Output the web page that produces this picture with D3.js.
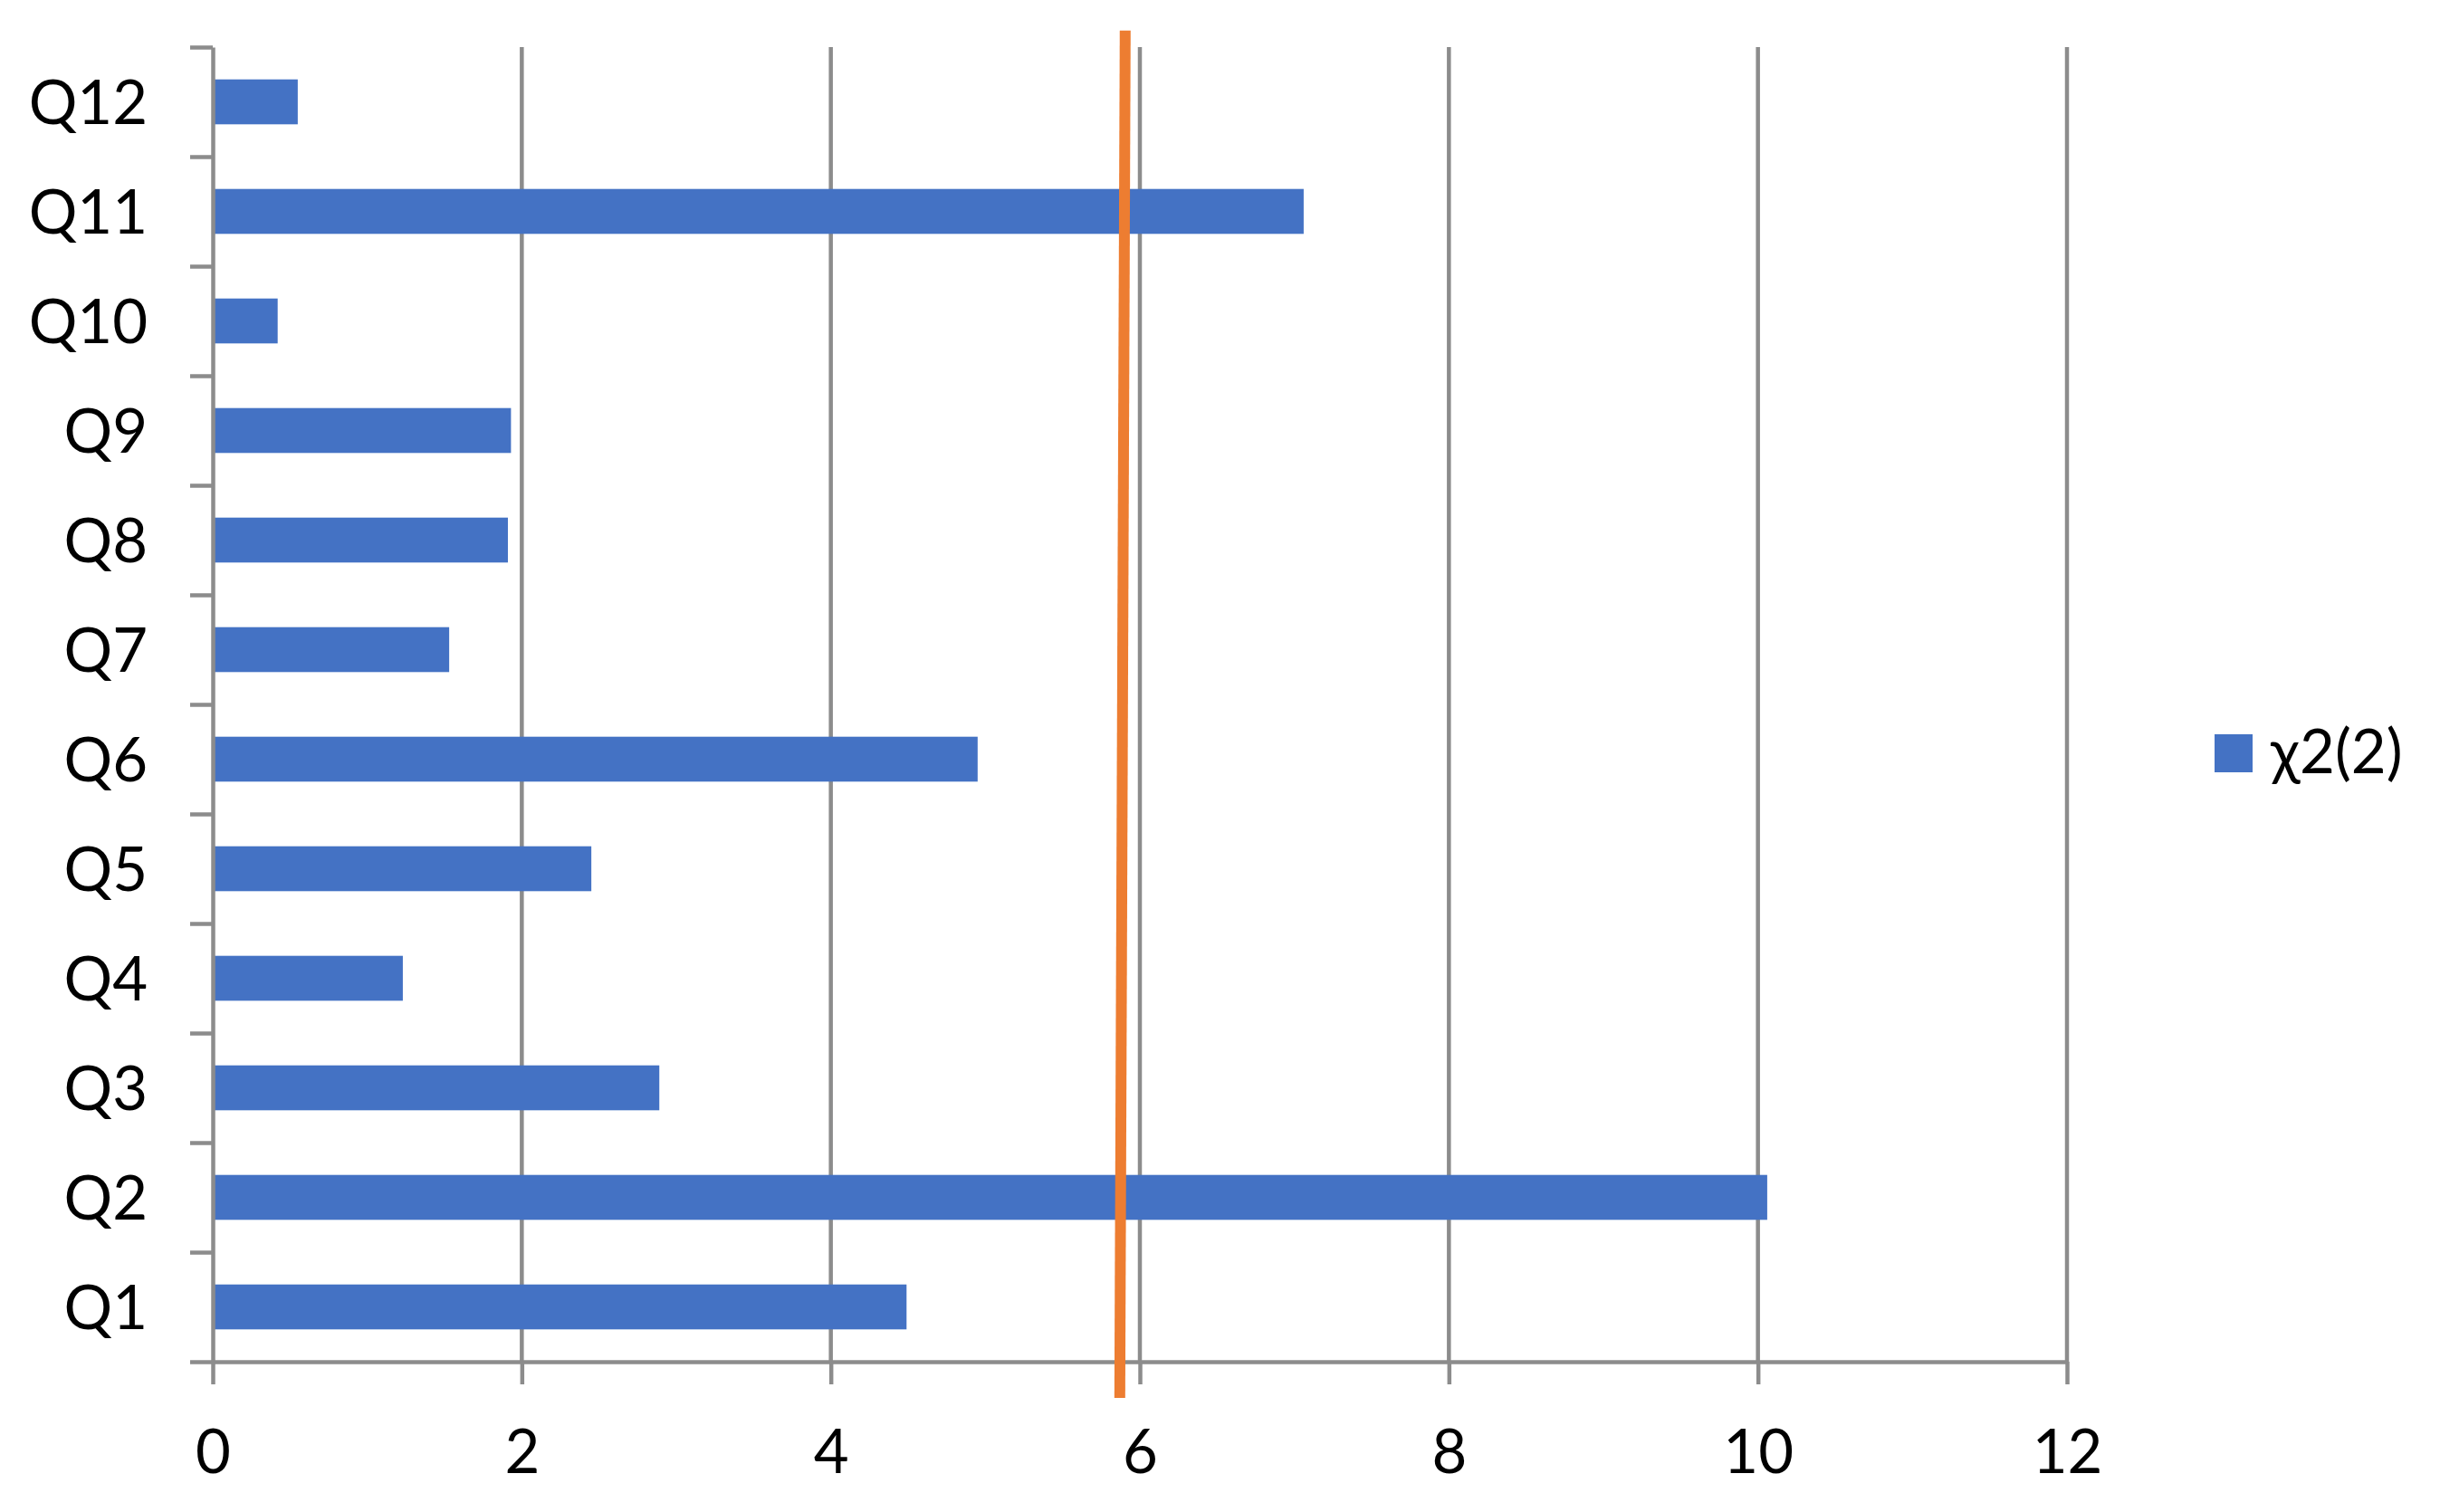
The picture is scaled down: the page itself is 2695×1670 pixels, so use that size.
<!DOCTYPE html>
<meta charset="utf-8">
<style>
body { margin: 0; background: #fff; }
svg, text { font-family: 'Lato', 'Open Sans', sans-serif; }
.grid line, .axis path, .axis line { stroke: #8c8c8c; stroke-width: 4.5; }
</style>
<body>
<script src="https://d3js.org/d3.v7.min.js"></script>
<script>

var W = 2695, H = 1670;
var margin = {top: 52, right: 412, bottom: 166, left: 235};
var width = W - margin.left - margin.right,
    height = H - margin.top - margin.bottom;

// data
var questions = ["Q1","Q2","Q3","Q4","Q5","Q6","Q7","Q8","Q9","Q10","Q11","Q12"];
var chi2 = [4.49, 10.06, 2.89, 1.23, 2.45, 4.95, 1.53, 1.91, 1.93, 0.42, 7.06, 0.55];
var xTicks = [0, 2, 4, 6, 8, 10, 12];
var seriesName = "\u03c72(2)";
// orange threshold line, x values at its two ends, y in category units
var critLine = [[5.87, -0.33], [5.905, 12.15]];

var x = d3.scaleLinear().domain([0, 12]).range([0, width]);
var y = d3.scaleBand()
    .domain(questions.slice().reverse())
    .range([0, height])
    .paddingInner(0.59)
    .paddingOuter(0.295);
var yIdx = d3.scaleLinear().domain([0, questions.length]).range([height, 0]);

var svg = d3.select("body").append("svg")
    .attr("width", W)
    .attr("height", H);

var g = svg.append("g")
    .attr("transform", "translate(" + margin.left + "," + margin.top + ")");

// vertical gridlines
g.append("g").attr("class", "grid")
  .selectAll("line")
  .data(xTicks.slice(1))
  .enter().append("line")
    .attr("x1", d => x(d)).attr("x2", d => x(d))
    .attr("y1", 0).attr("y2", height);

// bars
g.append("g").selectAll("rect")
  .data(questions)
  .enter().append("rect")
    .attr("x", x(0))
    .attr("y", d => y(d))
    .attr("height", y.bandwidth())
    .attr("width", (d, i) => x(chi2[i]) - x(0))
    .style("fill", "#4472c4");

// x axis
var xAxis = g.append("g")
    .attr("class", "axis")
    .attr("transform", "translate(0," + height + ")")
    .call(d3.axisBottom(x).tickValues(xTicks).tickSize(25).tickSizeOuter(0));
xAxis.selectAll("text")
    .attr("y", 123).attr("dy", 0)
    .style("font-size", "67px").style("fill", "#000");

// y axis: tick marks on category boundaries
g.append("g")
    .attr("class", "axis")
    .call(d3.axisLeft(yIdx).ticks(questions.length).tickSize(25).tickSizeOuter(0).tickFormat(""));

// category labels
g.append("g").selectAll("text")
  .data(questions)
  .enter().append("text")
    .attr("x", -72)
    .attr("y", d => y(d) + y.bandwidth() / 2)
    .attr("dy", "0.36em")
    .style("text-anchor", "end")
    .style("font-size", "67px")
    .text(d => d);

// orange line
var line = d3.line()
    .x(d => x(d[0]))
    .y(d => yIdx(d[1]));
g.append("path")
    .datum(critLine)
    .attr("d", line)
    .style("fill", "none")
    .style("stroke", "#ed7d31")
    .style("stroke-width", 12);

// legend
var legend = svg.append("g")
    .attr("transform", "translate(2446,811)");
legend.append("rect")
    .attr("width", 42).attr("height", 42)
    .style("fill", "#4472c4");
legend.append("text")
    .attr("x", 62).attr("y", 43)
    .style("font-size", "67px")
    .text(seriesName);

</script>
</body>
